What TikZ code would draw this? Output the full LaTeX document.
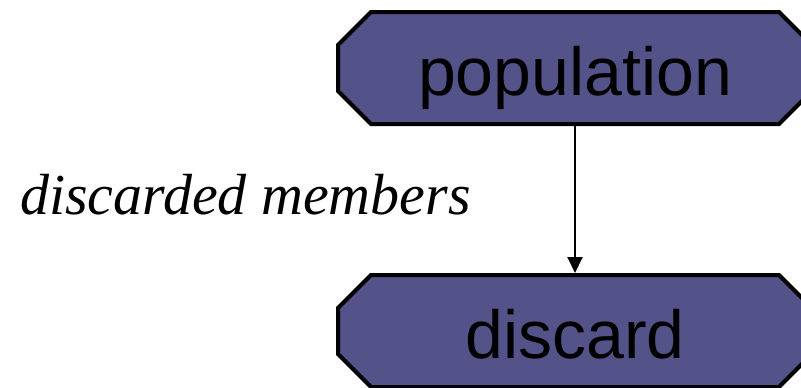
\documentclass[tikz,border=0pt]{standalone}
\usepackage{fontspec}
\setmainfont{Liberation Serif}
\setsansfont{Liberation Sans}
\usetikzlibrary{arrows.meta,calc,backgrounds}
\definecolor{stagefill}{RGB}{83,83,138}
\tikzset{
  stageborder/.style={draw=black, line width=4pt, fill=stagefill, line join=miter},
  % text box of a stage; its octagonal outline (chamfer 33) goes behind it
  stage/.style={
    rectangle, minimum width=474pt, minimum height=112pt,
    inner sep=0pt, outer sep=2pt,
    text height=60pt, text depth=6pt,
    font=\sffamily\fontsize{68}{68}\selectfont,
    append after command={\pgfextra{
      \begin{pgfonlayer}{background}
        \draw[stageborder]
          ($(\tikzlastnode.center)+(-204,-56)$) -- ($(\tikzlastnode.center)+(204,-56)$)
          -- ($(\tikzlastnode.center)+(237,-23)$) -- ($(\tikzlastnode.center)+(237,23)$)
          -- ($(\tikzlastnode.center)+(204,56)$) -- ($(\tikzlastnode.center)+(-204,56)$)
          -- ($(\tikzlastnode.center)+(-237,23)$) -- ($(\tikzlastnode.center)+(-237,-23)$)
          -- cycle;
      \end{pgfonlayer}}}
  },
  flow/.style={line width=2pt, -{Triangle[length=16pt,width=15pt]}},
  edgelabel/.style={inner sep=0pt, font=\rmfamily\itshape\fontsize{58}{58}\selectfont}
}
\begin{document}
\begin{tikzpicture}[x=1pt,y=-1pt]
  \useasboundingbox (0,0) rectangle (801,388);
  \clip (0,0) rectangle (801,388);
  \node[stage] (population) at (575,68) {population};
  \node[stage] (discard) at (575,331) {discard};
  \draw[flow] (population) -- (discard);
  \node[edgelabel, anchor=base west] (lbl) at (20,214) {discarded members};
\end{tikzpicture}
\end{document}
